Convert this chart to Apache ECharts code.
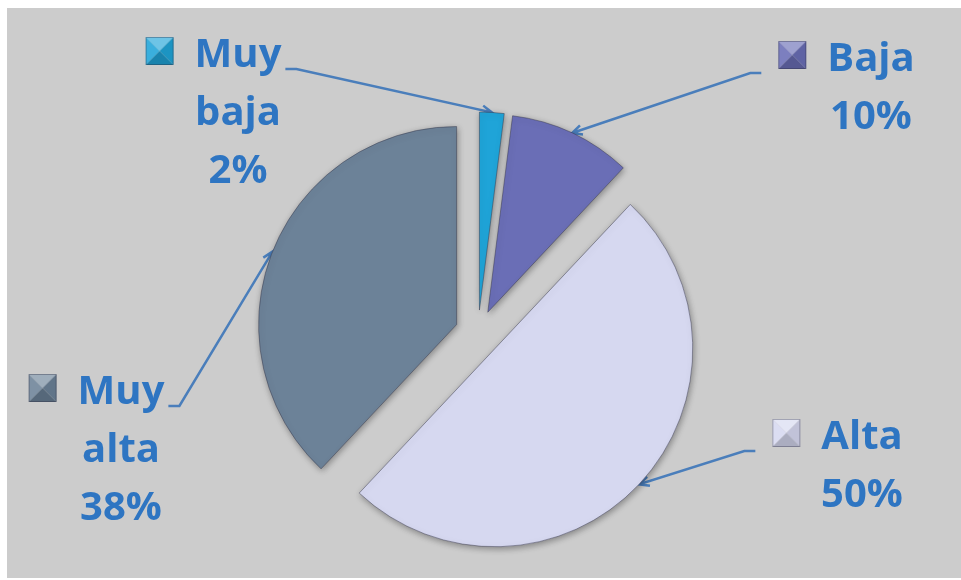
<!DOCTYPE html>
<html>
<head>
<meta charset="utf-8">
<script src="https://cdn.jsdelivr.net/npm/echarts@6/dist/echarts.min.js"></script>
<style>
html, body { margin: 0; padding: 0; background: #fff; }
#chart { width: 961px; height: 580px; }
</style>
</head>
<body>
<div id="chart"></div>
<script>
// datos
var categories = ['Muy baja', 'Baja', 'Alta', 'Muy alta'];
var percents = [2, 10, 50, 38];
var labelWords = [['Muy', 'baja'], ['Baja'], ['Alta'], ['Muy', 'alta']];

var colors = ['#1fa4d8', '#6a6eb6', '#d6d8f0', '#6c8298'];
// centro x del texto, y superior del bloque
var labelPos = [[238, 27], [871, 31], [862, 409], [121, 364]];
var leftSide = [true, false, false, true];

var pieR = 198, explode = 23;
var labelFont = 'bold 40px "Open Sans"';

function mix(hex, target, t) {
    var n = parseInt(hex.slice(1), 16);
    var rgb = [(n >> 16) & 255, (n >> 8) & 255, n & 255];
    return 'rgb(' + rgb.map(function (v) { return Math.round(v + (target - v) * t); }).join(',') + ')';
}

// cuadrito de leyenda con efecto piramide
function makeIcon(color) {
    var cv = document.createElement('canvas');
    cv.width = 30; cv.height = 40;
    var ctx = cv.getContext('2d');
    var a = 1, b = 29, m = 15;
    var faces = [
        [[a, a], [b, a], [m, m], mix(color, 255, 0.35)],
        [[a, a], [a, b], [m, m], mix(color, 255, 0.12)],
        [[b, a], [b, b], [m, m], mix(color, 0, 0.1)],
        [[a, b], [b, b], [m, m], mix(color, 0, 0.2)]
    ];
    faces.forEach(function (f) {
        ctx.beginPath();
        ctx.moveTo(f[0][0], f[0][1]); ctx.lineTo(f[1][0], f[1][1]); ctx.lineTo(f[2][0], f[2][1]);
        ctx.closePath();
        ctx.fillStyle = f[3];
        ctx.fill();
    });
    ctx.strokeStyle = 'rgba(40,40,60,0.35)';
    ctx.lineWidth = 1;
    ctx.strokeRect(a + 0.5, a + 0.5, b - a - 1, b - a - 1);
    return cv;
}

var measure = document.createElement('canvas').getContext('2d');
measure.font = labelFont;

var rich = {
    g: { width: 20 },
    p: { width: 50 },
    t: { fontSize: 40, fontWeight: 'bold', color: '#2e75c2', fontFamily: 'Open Sans', lineHeight: 58 }
};
colors.forEach(function (c, i) {
    rich['i' + i] = { width: 30, height: 40, backgroundColor: { image: makeIcon(c) } };
});

var sliceStyle = {
    borderColor: 'rgba(50,50,70,0.45)', borderWidth: 1,
    shadowBlur: 6, shadowColor: 'rgba(0,0,0,0.35)', shadowOffsetX: 1, shadowOffsetY: 2
};

var myChart = echarts.init(document.getElementById('chart'));

var option = {
    backgroundColor: '#ffffff',
    animation: false,
    graphic: [{
        type: 'rect', z: -10, silent: true,
        shape: { x: 7, y: 8, width: 960, height: 570 },
        style: { fill: '#cccccc' }
    }],
    series: [{
        // sectores separados
        type: 'pie',
        center: [478, 333],
        radius: pieR,
        startAngle: 90,
        clockwise: true,
        selectedMode: 'multiple',
        selectedOffset: explode,
        data: categories.map(function (c, i) {
            return { name: c, value: percents[i], selected: true, itemStyle: { color: colors[i] } };
        }),
        itemStyle: sliceStyle,
        select: { itemStyle: sliceStyle },
        emphasis: { disabled: true },
        label: { show: false },
        labelLine: { show: false }
    }, {
        // etiquetas, ancladas en el borde exterior de los sectores separados
        type: 'pie',
        silent: true,
        center: [478, 333],
        radius: pieR + explode,
        startAngle: 90,
        clockwise: true,
        avoidLabelOverlap: false,
        data: categories.map(function (c, i) {
            return { name: c, value: percents[i] };
        }),
        itemStyle: { color: 'rgba(0,0,0,0)' },
        emphasis: { disabled: true },
        label: {
            show: true,
            position: 'outside',
            formatter: function (p) {
                var w = labelWords[p.dataIndex];
                var s = '{i' + p.dataIndex + '|}{g|}{t|' + w[0] + '}{p|}';
                for (var k = 1; k < w.length; k++) s += '\n{t|' + w[k] + '}';
                return s + '\n{t|' + p.value + '%}';
            },
            rich: rich
        },
        labelLine: {
            show: true,
            lineStyle: { color: '#4a7ebb', width: 2.5, join: 'miter' }
        },
        labelLayout: function (params) {
            var i = params.dataIndex;
            var cx = labelPos[i][0], top = labelPos[i][1];
            var half = measure.measureText(labelWords[i][0]).width / 2;
            var y = top + 42;
            var end, turn;
            if (leftSide[i]) {
                end = [cx + half + 4, y];
                turn = [end[0] + 11, y];
            } else {
                end = [cx - half - 66, y];
                turn = [end[0] - 11, y];
            }
            // punta de flecha abierta en el borde del sector
            var tip = params.labelLinePoints[0];
            var ang = Math.atan2(turn[1] - tip[1], turn[0] - tip[0]);
            var wing = function (d) {
                return [tip[0] + 11 * Math.cos(ang + d), tip[1] + 11 * Math.sin(ang + d)];
            };
            return {
                x: cx, y: top, align: 'center', verticalAlign: 'top',
                labelLinePoints: [end, turn, tip, wing(0.45), tip, wing(-0.45)]
            };
        }
    }]
};
myChart.setOption(option);
</script>
</body>
</html>
